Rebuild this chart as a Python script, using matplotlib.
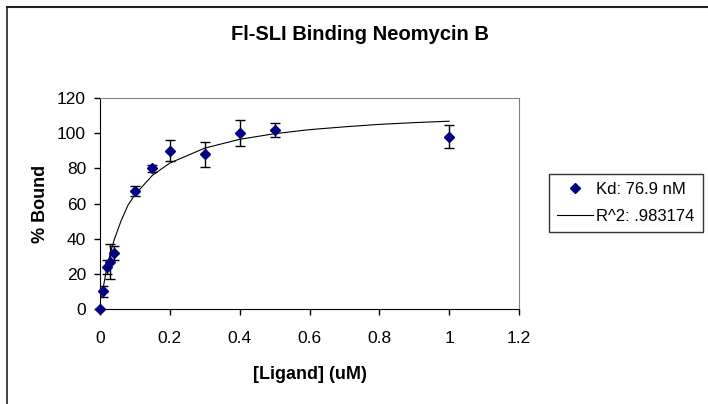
import matplotlib.pyplot as plt
from matplotlib.lines import Line2D

plt.rcParams['font.family'] = ['Liberation Sans', 'DejaVu Sans']

# measured points
conc = [0, 0.01, 0.02, 0.03, 0.04, 0.1, 0.15, 0.2, 0.3, 0.4, 0.5, 1.0]
bound = [0, 10, 24, 27, 32, 67, 80, 90, 88, 100, 102, 98]
err = [0, 3, 4, 10, 4, 3, 2, 6, 7, 7.5, 4, 6.5]

# fitted curve
fit_x = [0.005, 0.01, 0.02, 0.03, 0.04, 0.06, 0.08, 0.1, 0.15, 0.2, 0.3, 0.4, 0.5, 0.6, 0.7, 0.8, 0.9, 1.0]
fit_y = [7, 13, 24, 32, 39, 50, 59, 65, 76, 83, 91.5, 96.5, 99.7, 102, 103.6, 105, 106, 106.8]

x_ticks = [0, 0.2, 0.4, 0.6, 0.8, 1, 1.2]
x_tick_labels = ['0', '0.2', '0.4', '0.6', '0.8', '1', '1.2']
y_ticks = [0, 20, 40, 60, 80, 100, 120]


fig = plt.figure(figsize=(7.08, 4.04), dpi=100)
ax = fig.add_axes([100/708, 1-309/404, 419/708, 211/404])

ax.errorbar(conc, bound, yerr=err, fmt='none', ecolor='black', elinewidth=1, capsize=3.5, capthick=1, zorder=2)
pts, = ax.plot(conc, bound, 'D', color='#000080', markersize=5.5, zorder=3, clip_on=False, label='Kd: 76.9 nM')
line, = ax.plot(fit_x, fit_y, color='black', lw=0.8, zorder=2, label='R^2: .983174')

ax.set_xlim(0, 1.2)
ax.set_ylim(0, 120)
ax.set_xticks(x_ticks)
ax.set_xticklabels(x_tick_labels)
ax.set_yticks(y_ticks)
ax.tick_params(axis='both', direction='out', length=4, width=1, labelsize=12.5)
ax.tick_params(axis='x', pad=12)
ax.tick_params(axis='y', pad=6)

#spines: black left/bottom, gray top/right
ax.spines['left'].set_color('black')
ax.spines['bottom'].set_color('black')
ax.spines['top'].set_color('#808080')
ax.spines['right'].set_color('#808080')

ax.set_xlabel('[Ligand] (uM)', fontsize=13, fontweight='bold', labelpad=14)
ax.set_ylabel('% Bound', fontsize=13, fontweight='bold', labelpad=6)

fig.text(360/708, 1-40/404, 'Fl-SLI Binding Neomycin B', fontsize=14.5, fontweight='bold', ha='center', va='baseline')

leg = fig.legend(handles=[pts, line], loc='center left', bbox_to_anchor=(549/708, 1-203/404),
                 fontsize=12, frameon=True, fancybox=False, handlelength=2.15, borderpad=0.5,
                 labelspacing=0.7, handletextpad=0.2, borderaxespad=0)
leg.get_frame().set_edgecolor('black')
leg.get_frame().set_linewidth(1)

# chart area border (only top and left visible)
fig.add_artist(Line2D([7/708, 1], [1-6.5/404, 1-6.5/404], color='#222222', lw=1.5))
fig.add_artist(Line2D([7/708, 7/708], [0, 1-6.5/404], color='#222222', lw=1.2))

fig.savefig('out.png', dpi=100)
